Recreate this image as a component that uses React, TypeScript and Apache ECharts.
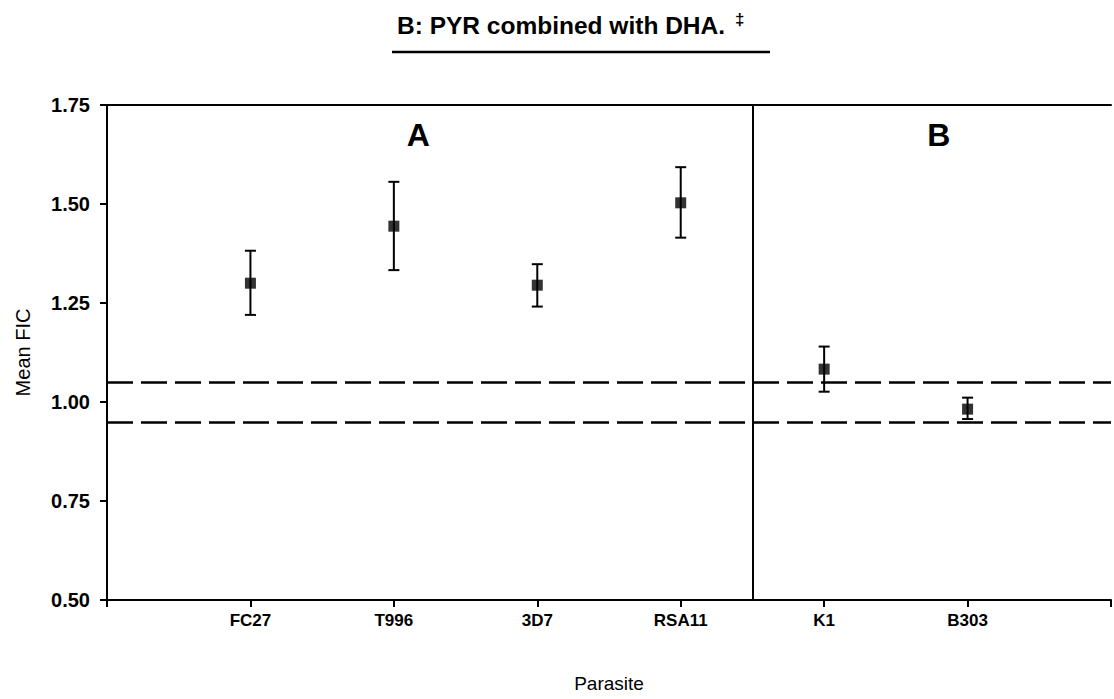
import React, { useEffect, useRef } from "react";
import * as echarts from "echarts";

const categories = ["FC27", "T996", "3D7", "RSA11", "K1", "B303"];
const means = [1.3, 1.444, 1.295, 1.503, 1.083, 0.982];
const lowers = [1.22, 1.333, 1.241, 1.415, 1.026, 0.957];
const uppers = [1.382, 1.556, 1.348, 1.593, 1.14, 1.011];
const yTicks = [0.5, 0.75, 1.0, 1.25, 1.5, 1.75];
const thresholds = [1.05, 0.95];
const dividerAt = 4.5;
const panelLabels = [
  { text: "A", x: 2.17, y: 1.675 },
  { text: "B", x: 5.8, y: 1.675 },
];

const FONT = "Liberation Sans, Arial, sans-serif";

export default function App() {
  const ref = useRef<HTMLDivElement>(null);
  useEffect(() => {
    if (!ref.current) return;
    const chart = echarts.init(ref.current, null, { renderer: "svg" });
    const pts = means.map((m, i) => [i + 1, m]);
    const errs = means.map((_, i) => [i + 1, lowers[i], uppers[i]]);
    chart.setOption({
      animation: false,
      backgroundColor: "#ffffff",
      textStyle: { fontFamily: FONT },
      title: {
        text: "{t|B: PYR combined with DHA.}  {s|‡}",
        left: 392,
        top: 6,
        textStyle: {
          rich: {
            t: { fontSize: 24.5, fontWeight: "bold", color: "#000", fontFamily: FONT },
            s: { fontSize: 17, fontWeight: "bold", color: "#000", fontFamily: FONT, verticalAlign: "top", padding: [0, 0, 12, 0] },
          },
        },
      },
      graphic: [
        {
          type: "line",
          shape: { x1: 392, y1: 52, x2: 770, y2: 52 },
          style: { stroke: "#000", lineWidth: 2.5 },
        },
      ],
      grid: { left: 107, right: 0, top: 105, bottom: 99 },
      xAxis: [
        {
          type: "value",
          min: 0,
          max: 7,
          interval: 1,
          name: "Parasite",
          nameLocation: "middle",
          nameGap: 74,
          nameTextStyle: { fontSize: 19, color: "#000", fontFamily: FONT },
          axisLine: { lineStyle: { color: "#000", width: 2 } },
          axisTick: { show: true, length: 7, lineStyle: { color: "#000", width: 2 } },
          axisLabel: {
            margin: 12,
            fontSize: 17,
            fontWeight: "bold",
            color: "#000",
            fontFamily: FONT,
            formatter: (v: number) => categories[v - 1] ?? "",
          },
          splitLine: { show: false },
        },
        {
          type: "value",
          position: "top",
          min: 0,
          max: 7,
          axisLine: { show: true, lineStyle: { color: "#000", width: 2 } },
          axisTick: { show: false },
          axisLabel: { show: false },
          splitLine: { show: false },
        },
      ],
      yAxis: {
        type: "value",
        min: 0.5,
        max: 1.75,
        interval: 0.25,
        name: "Mean FIC",
        nameLocation: "middle",
        nameRotate: 90,
        nameGap: 74,
        nameTextStyle: { fontSize: 20, color: "#000", fontFamily: FONT },
        axisLine: { show: true, lineStyle: { color: "#000", width: 2 } },
        axisTick: { show: true, length: 7, lineStyle: { color: "#000", width: 2 } },
        axisLabel: {
          margin: 17,
          fontSize: 20,
          fontWeight: "bold",
          color: "#000",
          fontFamily: FONT,
          formatter: (v: number) => (yTicks.some((t) => Math.abs(t - v) < 1e-6) ? v.toFixed(2) : ""),
        },
        splitLine: { show: false },
      },
      series: [
        {
          type: "custom",
          data: errs,
          z: 3,
          renderItem: (params: any, api: any) => {
            const x = api.value(0);
            const lo = api.coord([x, api.value(1)]);
            const hi = api.coord([x, api.value(2)]);
            const w = 5.5;
            const st = { stroke: "#000", lineWidth: 2 };
            return {
              type: "group",
              children: [
                { type: "line", shape: { x1: lo[0], y1: lo[1], x2: hi[0], y2: hi[1] }, style: st },
                { type: "line", shape: { x1: lo[0] - w, y1: lo[1], x2: lo[0] + w, y2: lo[1] }, style: st },
                { type: "line", shape: { x1: hi[0] - w, y1: hi[1], x2: hi[0] + w, y2: hi[1] }, style: st },
              ],
            };
          },
        },
        {
          type: "scatter",
          data: pts,
          z: 4,
          symbol: "rect",
          symbolSize: [11, 11],
          itemStyle: { color: "#000" },
          markLine: {
            silent: true,
            symbol: "none",
            label: { show: false },
            data: [
              ...thresholds.map((t) => ({
                yAxis: t,
                lineStyle: { color: "#000", width: 2.5, type: [26, 8] },
              })),
              { xAxis: dividerAt, lineStyle: { color: "#000", width: 2, type: "solid" } },
            ],
          },
          markPoint: {
            silent: true,
            symbol: "circle",
            symbolSize: 1,
            itemStyle: { color: "rgba(0,0,0,0)" },
            label: {
              show: true,
              position: "inside",
              fontSize: 32,
              fontWeight: "bold",
              color: "#000",
              fontFamily: FONT,
              formatter: (p: any) => p.name,
            },
            data: panelLabels.map((l) => ({ name: l.text, coord: [l.x, l.y] })),
          },
        },
      ],
    });
    return () => chart.dispose();
  }, []);
  return (
    <div
      ref={ref}
      style={{ position: "fixed", left: 0, top: 0, width: 1114, height: 699, background: "#fff" }}
    />
  );
}
